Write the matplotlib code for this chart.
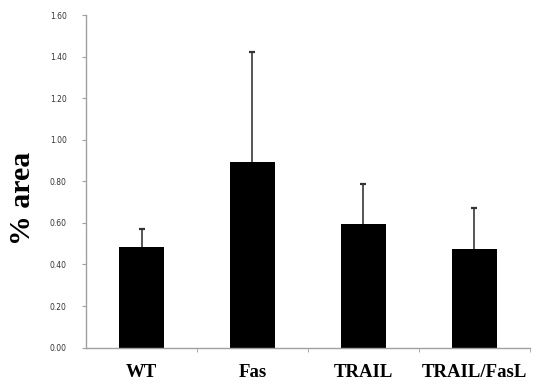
import matplotlib
matplotlib.use("Agg")
import matplotlib.pyplot as plt
import numpy as np

categories = ["WT", "Fas", "TRAIL", "TRAIL/FasL"]
values = [0.483, 0.894, 0.593, 0.473]
errors = [0.086, 0.53, 0.193, 0.197]
ytick_values = [0.0, 0.2, 0.4, 0.6, 0.8, 1.0, 1.2, 1.4, 1.6]
ytick_labels = ["0.00", "0.20", "0.40", "0.60", "0.80", "1.00", "1.20", "1.40", "1.60"]

fig = plt.figure(figsize=(5.39, 3.85), dpi=100)
ax = fig.add_axes([0.1596, 0.097, 0.8234, 0.864])

x = np.arange(len(categories))
vals = np.array(values)
errs = np.array(errors)
ax.bar(x, vals, width=0.4, color="black", zorder=2)
ax.vlines(x, vals, vals + errs, color="#555555", linewidth=1.4, zorder=1)
ax.plot(x, vals + errs, linestyle="none", marker="_", markersize=5,
        markeredgewidth=1.6, color="#333333", zorder=1)

ax.set_xlim(-0.5, 3.5)
ax.set_ylim(0, 1.6)
ax.set_yticks(ytick_values)
ax.set_yticklabels(ytick_labels, fontsize=5.5, color="#333333")
ax.set_xticks(x)
ax.set_xticklabels(categories, fontsize=13.5, fontweight="bold", family="Liberation Serif")
ax.set_xticks([0.5, 1.5, 2.5, 3.5], minor=True)
ax.tick_params(axis="x", which="major", length=0, pad=12)
ax.tick_params(axis="x", which="minor", length=3, color="#a0a0a0", direction="out")
ax.tick_params(axis="y", length=3, color="#a0a0a0", direction="out", pad=11)

for s in ["top", "right"]:
    ax.spines[s].set_visible(False)
for s in ["left", "bottom"]:
    ax.spines[s].set_color("#a0a0a0")
    ax.spines[s].set_linewidth(1.0)

ax.set_ylabel("% area", fontsize=21.5, fontweight="bold", family="Liberation Serif")
ax.yaxis.set_label_coords(-0.112, 0.45)

fig.savefig("out.png", dpi=100)
